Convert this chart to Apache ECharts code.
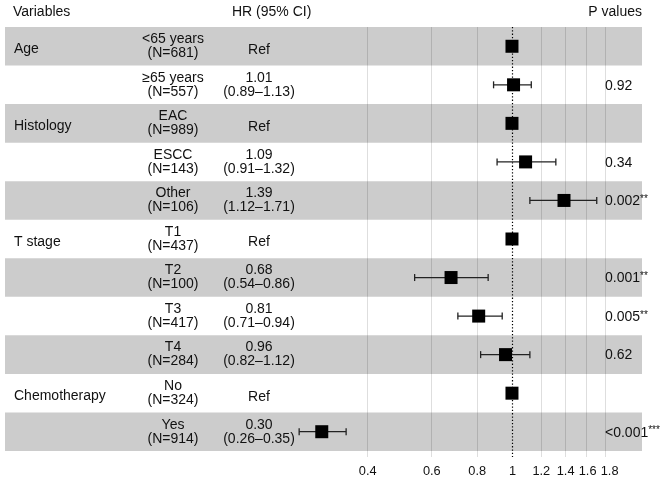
<!DOCTYPE html>
<html>
<head>
<meta charset="utf-8">
<script src="https://cdn.jsdelivr.net/npm/echarts@6/dist/echarts.min.js"></script>
<style>
  html, body { margin: 0; padding: 0; background: #fff; }
  #forestMain { width: 670px; height: 483px; }
</style>
</head>
<body>
<div id="forestMain"></div>
<script>
// table data, one entry per row (top to bottom)
const groups = ['Age', '', 'Histology', '', '', 'T stage', '', '', '', 'Chemotherapy', ''];
const subgroups = ['<65 years', '≥65 years', 'EAC', 'ESCC', 'Other', 'T1', 'T2', 'T3', 'T4', 'No', 'Yes'];
const counts = [681, 557, 989, 143, 106, 437, 100, 417, 284, 324, 914];
const hr = [1, 1.01, 1, 1.09, 1.39, 1, 0.68, 0.81, 0.96, 1, 0.30];
const lower = [null, 0.89, null, 0.91, 1.12, null, 0.54, 0.71, 0.82, null, 0.26];
const upper = [null, 1.13, null, 1.32, 1.71, null, 0.86, 0.94, 1.12, null, 0.35];
const pValues = ['', '0.92', '', '0.34', '0.002', '', '0.001', '0.005', '0.62', '', '<0.001'];
const pStars = ['', '', '', '', '**', '', '**', '**', '', '', '***'];
const tickValues = [0.4, 0.6, 0.8, 1, 1.2, 1.4, 1.6, 1.8];
const tickLabels = ['0.4', '0.6', '0.8', '1', '1.2', '1.4', '1.6', '1.8'];
const gridValues = [0.4, 0.6, 0.8, 1.2, 1.4, 1.6, 1.8];
const bandRows = [0, 2, 4, 6, 8, 10];

const FONT = '"Liberation Sans", Arial, Helvetica, sans-serif';
const fs = 14;
// column positions of the table text
const colGroup = 14, colSub = 173, colHr = 259, colP = 605;
const minLabelGap = 22; // keep crowded tick labels apart

function hrLabel(i) {
  if (lower[i] == null) return 'Ref';
  return hr[i].toFixed(2) + '\n(' + lower[i].toFixed(2) + '–' + upper[i].toFixed(2) + ')';
}

const rowIdx = subgroups.map((s, i) => [0, i]);

option1 = {
  animation: false,
  grid: { left: 5, right: 28, top: 27, bottom: 26 },
  xAxis: {
    type: 'value',
    min: -3.209,
    max: 0.823,
    axisLine: { show: false },
    axisTick: { show: false },
    splitLine: { show: false },
    axisLabel: { show: false }
  },
  yAxis: {
    type: 'value',
    min: -0.5,
    max: 10.656,
    inverse: true,
    show: false
  },
  graphic: [
    { type: 'text', x: 13, y: 12, style: { text: 'Variables', font: fs + 'px ' + FONT, fill: '#111', verticalAlign: 'middle' } },
    { type: 'text', x: 232, y: 12, style: { text: 'HR (95% CI)', font: fs + 'px ' + FONT, fill: '#111', verticalAlign: 'middle' } },
    { type: 'text', x: 642, y: 12, style: { text: 'P values', font: fs + 'px ' + FONT, fill: '#111', align: 'right', verticalAlign: 'middle' } }
  ],
  series: [
    { // grey row bands
      type: 'custom',
      z: 1,
      silent: true,
      data: bandRows.map(r => [0, r]),
      renderItem: function (params, api) {
        let r = api.value(1);
        let top = api.coord([0, r - 0.5])[1];
        let bot = api.coord([0, r + 0.5])[1];
        let cs = params.coordSys;
        return { type: 'rect', shape: { x: cs.x, y: top, width: cs.width, height: bot - top }, style: { fill: '#cccccc' } };
      }
    },
    { // vertical grid lines
      type: 'custom',
      z: 2,
      silent: true,
      data: gridValues.map(v => [Math.log(v), 0]),
      renderItem: function (params, api) {
        let x = Math.round(api.coord([api.value(0), 0])[0]) + 0.5;
        let cs = params.coordSys;
        return { type: 'line', shape: { x1: x, y1: cs.y, x2: x, y2: cs.y + cs.height }, style: { stroke: 'rgba(0,0,0,0.13)', lineWidth: 1 } };
      }
    },
    { // x tick labels (HR on log scale)
      type: 'custom',
      z: 2,
      silent: true,
      clip: false,
      data: tickValues.map((v, i) => [Math.log(v), 0, i]),
      renderItem: function (params, api) {
        let k = api.value(2);
        // walk the ticks so a crowded label is pushed right of its neighbour
        let x = -Infinity;
        for (let j = 0; j <= k; j++) {
          let cx = api.coord([Math.log(tickValues[j]), 0])[0];
          x = Math.max(cx, x + minLabelGap);
        }
        let cs = params.coordSys;
        return {
          type: 'text', x: x + 0.5, y: cs.y + cs.height + 14,
          style: { text: tickLabels[k], font: '12.8px ' + FONT, fill: '#111', align: 'center', verticalAlign: 'middle' }
        };
      }
    },
    { // reference line at HR = 1
      type: 'custom',
      z: 3,
      silent: true,
      data: [[Math.log(1), 0]],
      renderItem: function (params, api) {
        let x = Math.round(api.coord([api.value(0), 0])[0]) + 0.5;
        let cs = params.coordSys;
        return { type: 'line', shape: { x1: x, y1: cs.y, x2: x, y2: cs.y + cs.height }, style: { stroke: '#000', lineWidth: 1.2, lineDash: [1.3, 2] } };
      }
    },
    { // confidence intervals
      type: 'custom',
      z: 4,
      silent: true,
      data: hr.map((h, i) => lower[i] == null ? null : [Math.log(lower[i]), i, Math.log(upper[i])]).filter(d => d),
      renderItem: function (params, api) {
        let a = api.coord([api.value(0), api.value(1)]);
        let b = api.coord([api.value(2), api.value(1)]);
        let st = { stroke: '#222', lineWidth: 1.3 };
        return {
          type: 'group',
          children: [
            { type: 'line', shape: { x1: a[0], y1: a[1], x2: b[0], y2: b[1] }, style: st },
            { type: 'line', shape: { x1: a[0], y1: a[1] - 3.5, x2: a[0], y2: a[1] + 3.5 }, style: st },
            { type: 'line', shape: { x1: b[0], y1: b[1] - 3.5, x2: b[0], y2: b[1] + 3.5 }, style: st }
          ]
        };
      }
    },
    { // point estimates
      type: 'scatter',
      z: 5,
      symbol: 'rect',
      symbolSize: 13,
      itemStyle: { color: '#000', opacity: 1 },
      data: hr.map((h, i) => [Math.log(h), i])
    },
    { // table text
      type: 'custom',
      z: 6,
      silent: true,
      clip: false,
      data: rowIdx,
      renderItem: function (params, api) {
        let i = api.value(1);
        let y = api.coord([0, i])[1];
        let base = { font: fs + 'px ' + FONT, fill: '#111', verticalAlign: 'middle', lineHeight: 14 };
        let hrTxt = hrLabel(i);
        let kids = [
          { type: 'text', x: colGroup, y: y + 3, style: Object.assign({}, base, { text: groups[i], align: 'left' }) },
          { type: 'text', x: colSub, y: y, style: Object.assign({}, base, { text: subgroups[i] + '\n(N=' + counts[i] + ')', align: 'center' }) },
          { type: 'text', x: colHr, y: hrTxt === 'Ref' ? y + 3.5 : y, style: Object.assign({}, base, { text: hrTxt, align: 'center' }) },
          {
            type: 'text', x: colP, y: y + 1,
            style: Object.assign({}, base, {
              text: '{n|' + pValues[i] + '}' + (pStars[i] ? '{s|' + pStars[i] + '}' : ''),
              align: 'left',
              rich: {
                n: { fontSize: fs, fontFamily: FONT, fill: '#111', lineHeight: 14 },
                s: { fontSize: 10, fontFamily: FONT, fill: '#111', verticalAlign: 'top', lineHeight: 14 }
              }
            })
          }
        ];
        return { type: 'group', children: kids };
      }
    }
  ]
};

var Forest = {
  chart: '',
  init: function (domID, option) {
    let dom = document.getElementById(domID);
    this.chart = echarts.init(dom);
    this.chart.setOption(option);
  }
};
Forest.init('forestMain', option1);
</script>
</body>
</html>
